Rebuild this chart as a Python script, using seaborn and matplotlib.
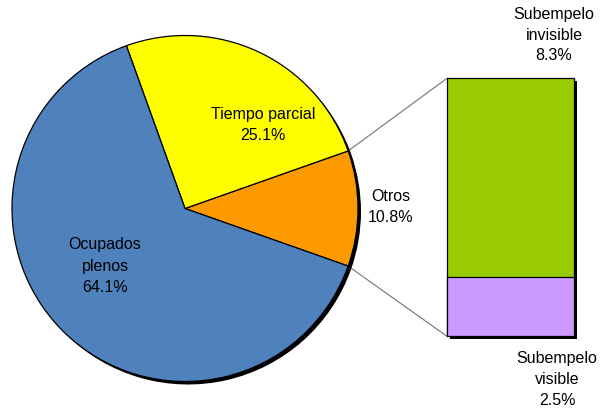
import matplotlib
matplotlib.use("Agg")
import matplotlib.pyplot as plt
import matplotlib.transforms as mtransforms
import matplotlib.patheffects as pe
import numpy as np
import seaborn as sns

# pie data (counter-clockwise from the right, "Otros" centred on 0 degrees)
pie_labels = ["Otros", "Tiempo parcial", "Ocupados\nplenos"]
pie_values = [10.8, 25.1, 64.1]
pie_colors = ["#FF9900", "#FFFF00", "#4F81BD"]

# bar data (breakdown of "Otros", bottom to top)
bar_labels = ["Subempelo\nvisible", "Subempelo\ninvisible"]
bar_values = [2.5, 8.3]
bar_colors = ["#CC99FF", "#99CC00"]

sns.set_theme(style="white")
plt.rcParams["font.family"] = ["Liberation Sans", "DejaVu Sans"]

W, H = 602, 410
fig = plt.figure(figsize=(W / 100, H / 100), dpi=100)
fig.patch.set_facecolor("white")

# main axes in pixel units (y up)
ax = fig.add_axes([0, 0, 1, 1])
cx, cy, r = 185, H - 209.5, 173
start = -pie_values[0] * 3.6 / 2

shadow = mtransforms.ScaledTranslation(3 / 100, -3 / 100, fig.dpi_scale_trans)
sh_wedges, _ = ax.pie(pie_values, colors=["black"] * 3, startangle=start,
                      center=(cx, cy), radius=r, frame=True,
                      wedgeprops=dict(linewidth=0))
for w in sh_wedges:
    w.set_transform(ax.transData + shadow)

wedges, _ = ax.pie(pie_values, colors=pie_colors, startangle=start,
                   center=(cx, cy), radius=r, frame=True,
                   wedgeprops=dict(edgecolor="black", linewidth=0.9))
ax.set_xlim(0, W)
ax.set_ylim(0, H)
ax.set_aspect("equal")
ax.axis("off")

fs = 11.5
txt = dict(ha="center", va="center", fontsize=fs, color="black", linespacing=1.5)
pct = [f"{v:.1f}%" for v in pie_values]
ax.text(263, H - 125, f"{pie_labels[1]}\n{pct[1]}", **txt)
ax.text(105, H - 266, f"{pie_labels[2]}\n{pct[2]}", **txt)
ax.text(391, H - 207, f"{pie_labels[0]}\n{pct[0]}", **txt)

# bar of "Otros"
bl, bt, bw, bh = 447, 79.3, 126.5, 258
axb = fig.add_axes([bl / W, (H - bt - bh) / H, bw / W, bh / H])
total = sum(bar_values)
sns.barplot(x=["Otros"], y=[total], color=bar_colors[1], width=1,
            edgecolor="black", linewidth=0.9, saturation=1, ax=axb)
sns.barplot(x=["Otros"], y=[bar_values[0]], color=bar_colors[0], width=1,
            edgecolor="black", linewidth=0.9, saturation=1, ax=axb)
for p in axb.patches:
    p.set_clip_on(False)
axb.patches[0].set_path_effects([
    pe.SimplePatchShadow(offset=(2.2, -2.2), shadow_rgbFace="black", alpha=1),
    pe.Normal()])
axb.set_xlim(-0.5, 0.5)
axb.set_ylim(0, total)
axb.axis("off")

ax.text(554, H - 35, f"{bar_labels[1]}\n{bar_values[1]:.1f}%", **txt)
ax.text(557, H - 380, f"{bar_labels[0]}\n{bar_values[0]:.1f}%", **txt)

# connector lines from the "Otros" wedge to the bar corners
w = wedges[0]
for ang, by in [(w.theta2, H - bt), (w.theta1, H - bt - bh)]:
    px = cx + r * np.cos(np.radians(ang))
    py = cy + r * np.sin(np.radians(ang))
    ax.plot([px, bl], [py, by], color="#808080", linewidth=0.9, zorder=0.5)

fig.savefig("out.png", dpi=100)
